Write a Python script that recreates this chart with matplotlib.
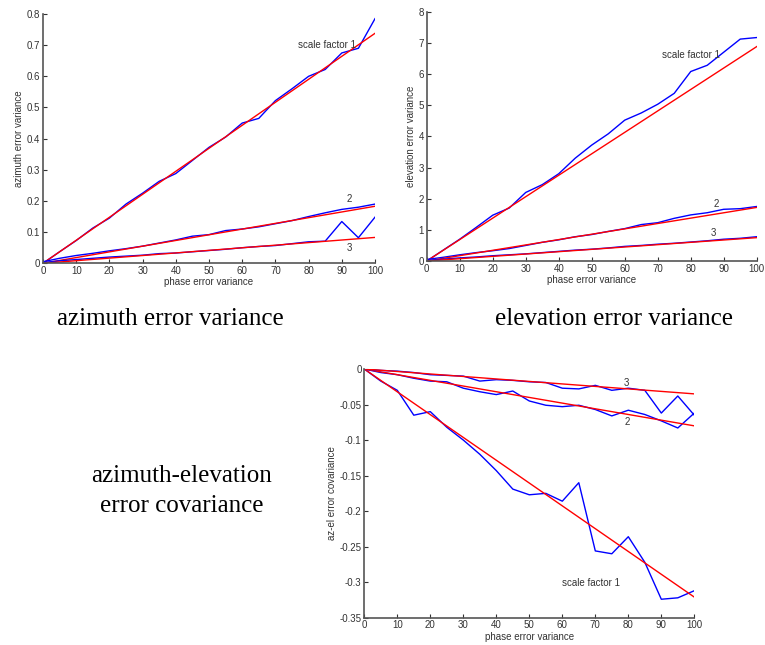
import matplotlib
matplotlib.use("Agg")
import matplotlib.pyplot as plt
import numpy as np

# phase error variance (x axis shared by all three panels)
phase_var = [0, 5, 10, 15, 20, 25, 30, 35, 40, 45, 50, 55, 60, 65, 70, 75, 80, 85, 90, 95, 100]
fit_x = [0, 100]

# azimuth error variance, measured (blue) and fitted line end points (red)
az_sf1 = [0, 0.037, 0.073, 0.113, 0.145, 0.19, 0.225, 0.263, 0.288, 0.33, 0.372,
          0.405, 0.45, 0.465, 0.522, 0.56, 0.6, 0.622, 0.675, 0.69, 0.785]
az_sf2 = [0.005, 0.016, 0.025, 0.032, 0.04, 0.047, 0.055, 0.065, 0.075, 0.087, 0.092,
          0.105, 0.11, 0.117, 0.127, 0.137, 0.15, 0.162, 0.173, 0.18, 0.19]
az_sf3 = [0.002, 0.008, 0.012, 0.016, 0.02, 0.023, 0.026, 0.031, 0.033, 0.037, 0.041,
          0.045, 0.05, 0.054, 0.057, 0.063, 0.069, 0.071, 0.134, 0.082, 0.148]
az_fit = [[0, 0.738], [0, 0.183], [0, 0.083]]

# elevation error variance
el_sf1 = [0, 0.35, 0.7, 1.08, 1.47, 1.7, 2.2, 2.45, 2.8, 3.3, 3.72,
          4.08, 4.52, 4.75, 5.03, 5.38, 6.08, 6.28, 6.7, 7.12, 7.17]
el_sf2 = [0.05, 0.12, 0.2, 0.27, 0.33, 0.4, 0.5, 0.6, 0.68, 0.78, 0.85,
          0.95, 1.04, 1.17, 1.23, 1.37, 1.48, 1.55, 1.66, 1.68, 1.75]
el_sf3 = [0.02, 0.06, 0.1, 0.13, 0.17, 0.2, 0.23, 0.27, 0.31, 0.35, 0.38,
          0.42, 0.47, 0.5, 0.54, 0.57, 0.61, 0.65, 0.7, 0.73, 0.78]
el_fit = [[0, 6.88], [0, 1.72], [0, 0.75]]

# az-el error covariance
cov_sf1 = [0, -0.017, -0.03, -0.065, -0.06, -0.082, -0.1, -0.12, -0.143, -0.169, -0.177,
           -0.175, -0.186, -0.16, -0.256, -0.26, -0.236, -0.272, -0.324, -0.322, -0.312]
cov_sf2 = [0, -0.005, -0.008, -0.013, -0.017, -0.018, -0.027, -0.032, -0.036, -0.031, -0.045,
           -0.051, -0.053, -0.051, -0.057, -0.066, -0.058, -0.064, -0.073, -0.083, -0.062]
cov_sf3 = [0, -0.002, -0.003, -0.005, -0.008, -0.009, -0.01, -0.017, -0.015, -0.016, -0.018,
           -0.019, -0.027, -0.028, -0.023, -0.03, -0.027, -0.03, -0.062, -0.038, -0.065]
cov_fit = [[0, -0.321], [0, -0.08], [0, -0.035]]

sans = ["Liberation Sans", "DejaVu Sans"]
serif = ["Liberation Serif", "DejaVu Serif"]
ink = "#333333"

fig = plt.figure(figsize=(7.65, 6.45), dpi=100)


def panel(rect, series, fits, ylim, yticks, ylabel, labels):
    ax = fig.add_axes(rect)
    for s, f in zip(series, fits):
        ax.plot(phase_var, s, color="#0000ff", lw=1.0)
        ax.plot(fit_x, f, color="#ff0000", lw=1.0)
    ax.set_xlim(0, 100)
    ax.set_ylim(*ylim)
    ax.set_xticks(range(0, 101, 10))
    ax.set_yticks(yticks)
    ax.set_yticklabels([("%g" % t) for t in yticks])
    for side in ("top", "right"):
        ax.spines[side].set_visible(False)
    for side in ("left", "bottom"):
        ax.spines[side].set_color("#555555")
        ax.spines[side].set_linewidth(1.2)
    ax.tick_params(direction="in", length=3, width=0.8, colors=ink, labelsize=7, pad=2)
    for lab in ax.get_xticklabels() + ax.get_yticklabels():
        lab.set_family(sans)
    ax.set_xlabel("phase error variance", fontsize=7, family=sans, color=ink, labelpad=1)
    ax.set_ylabel(ylabel, fontsize=7, family=sans, color=ink, labelpad=2)
    for x, y, t in labels:
        ax.text(x, y, t, fontsize=7, family=sans, color=ink, ha="left", va="center")
    return ax


panel([0.0562, 0.5918, 0.434, 0.3865], [az_sf1, az_sf2, az_sf3], az_fit,
      (0, 0.8), [0, 0.1, 0.2, 0.3, 0.4, 0.5, 0.6, 0.7, 0.8], "azimuth error variance",
      [(76.8, 0.70, "scale factor 1"), (91.5, 0.205, "2"), (91.5, 0.05, "3")])

panel([0.5578, 0.5953, 0.4314, 0.3866], [el_sf1, el_sf2, el_sf3], el_fit,
      (0, 8), list(range(0, 9)), "elevation error variance",
      [(71.2, 6.6, "scale factor 1"), (87.0, 1.83, "2"), (86.0, 0.91, "3")])

panel([0.4762, 0.0423, 0.4314, 0.3856], [cov_sf1, cov_sf2, cov_sf3], cov_fit,
      (-0.35, 0), [-0.35, -0.3, -0.25, -0.2, -0.15, -0.1, -0.05, 0], "az-el error covariance",
      [(59.8, -0.301, "scale factor 1"), (79.0, -0.075, "2"), (78.5, -0.019, "3")])

fig.text(170 / 765, 1 - 319 / 645, "azimuth error variance", fontsize=18,
         family=serif, ha="center", va="center")
fig.text(614 / 765, 1 - 319 / 645, "elevation error variance", fontsize=18,
         family=serif, ha="center", va="center")
fig.text(182 / 765, 1 - 491 / 645, "azimuth-elevation\nerror covariance", fontsize=18,
         family=serif, ha="center", va="center", linespacing=1.45)

fig.savefig("out.png", dpi=100)
